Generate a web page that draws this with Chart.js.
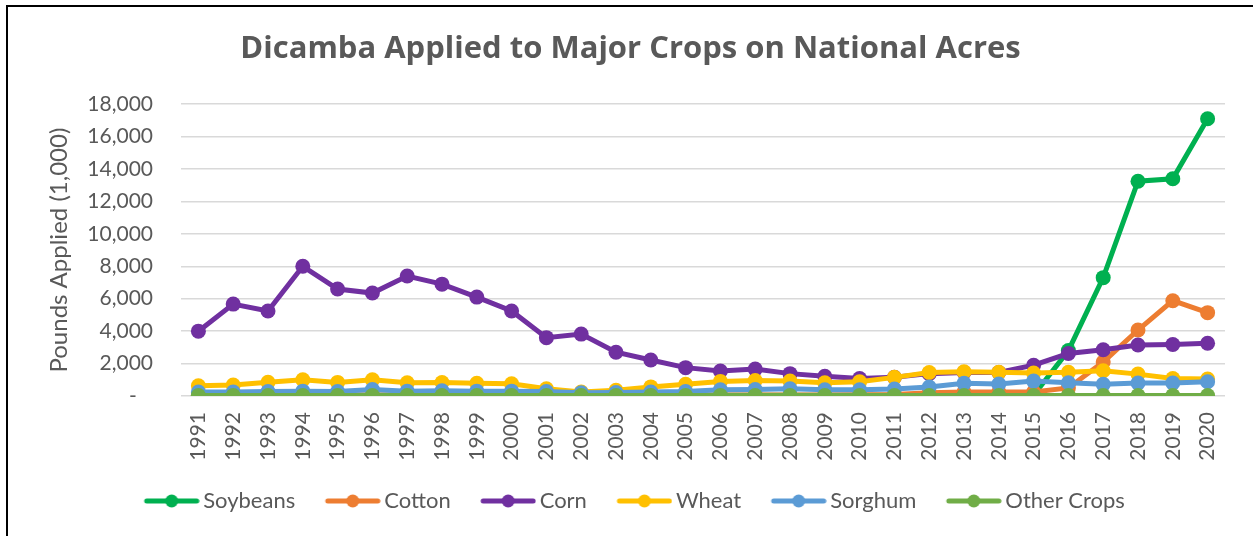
<!DOCTYPE html>
<html>
<head>
<meta charset="utf-8">
<script src="https://cdn.jsdelivr.net/npm/chart.js@4.4.1/dist/chart.umd.min.js"></script>
<style>
  html, body { margin: 0; padding: 0; background: #fff; }
  #wrap { position: relative; width: 1253px; height: 536px; overflow: hidden; }
  #frame { position: absolute; left: 6px; top: 5px; width: 1260px; height: 540px; border: 2px solid #000; box-sizing: border-box; }
  canvas { position: absolute; left: 0; top: 0; }
</style>
</head>
<body>
<div id="wrap">
  <div id="frame"></div>
  <canvas id="c" width="1253" height="536"></canvas>
</div>
<script>
const years = ['1991','1992','1993','1994','1995','1996','1997','1998','1999','2000','2001','2002','2003','2004','2005','2006','2007','2008','2009','2010','2011','2012','2013','2014','2015','2016','2017','2018','2019','2020'];
const soybeans = [40,40,40,40,40,40,40,40,40,40,40,40,40,40,40,40,40,40,40,40,40,40,40,40,50,2800,7300,13250,13400,17100];
const cotton = [60,60,60,60,60,60,60,60,60,60,60,60,60,60,60,60,60,60,60,80,100,200,250,250,250,500,2100,4070,5880,5140];
const corn = [4000,5670,5240,8000,6600,6350,7400,6900,6100,5240,3600,3820,2700,2220,1750,1540,1660,1380,1220,1080,1150,1380,1450,1450,1900,2620,2850,3150,3180,3250];
const wheat = [630,680,850,1000,840,1000,820,830,780,760,450,250,350,560,720,900,950,920,820,880,1150,1450,1500,1460,1420,1460,1560,1350,1080,1050];
const sorghum = [250,250,280,300,280,400,300,320,300,300,280,200,220,250,280,380,400,450,380,380,430,550,780,740,920,820,720,800,800,880];
const otherCrops = [30,30,30,30,30,30,30,30,30,30,30,30,30,30,30,30,30,30,30,30,30,30,30,30,30,30,30,30,30,30];
const yTicks = [0,2000,4000,6000,8000,10000,12000,14000,16000,18000];

const seriesNames = ['Soybeans','Cotton','Corn','Wheat','Sorghum','Other Crops'];
const seriesData = [soybeans, cotton, corn, wheat, sorghum, otherCrops];
const seriesColors = ['#00B050','#ED7D31','#7030A0','#FFC000','#5B9BD5','#70AD47'];

const FONT = 'Lato, "Open Sans", sans-serif';
const TXT = '#595959';

// legend marker: line with a dot, drawn flush right inside a wider transparent canvas
function legendIcon(color) {
  const cv = document.createElement('canvas');
  cv.width = 71; cv.height = 16;
  const g = cv.getContext('2d');
  g.strokeStyle = color; g.lineWidth = 5; g.lineCap = 'round';
  g.beginPath(); g.moveTo(18, 8); g.lineTo(68, 8); g.stroke();
  g.fillStyle = color;
  g.beginPath(); g.arc(43, 8, 6.5, 0, Math.PI * 2); g.fill();
  return cv;
}
const icons = seriesColors.map(legendIcon);

const datasets = seriesNames.map((name, i) => ({
  label: name,
  data: seriesData[i],
  borderColor: seriesColors[i],
  backgroundColor: seriesColors[i],
  pointBackgroundColor: seriesColors[i],
  pointBorderColor: seriesColors[i],
  borderWidth: 5,
  pointRadius: 7.5,
  pointBorderWidth: 0,
  pointHoverRadius: 7.5,
  tension: 0,
  order: seriesNames.length - i
}));

new Chart(document.getElementById('c'), {
  type: 'line',
  data: { labels: years, datasets },
  options: {
    responsive: false,
    animation: false,
    events: [],
    layout: { padding: { left: 36, right: 28, top: 0, bottom: 14 } },
    plugins: {
      title: {
        display: true,
        text: 'Dicamba Applied to Major Crops on National Acres',
        color: TXT,
        font: { family: '"Open Sans", Lato, sans-serif', size: 31, weight: 'bold' },
        padding: { top: 31, bottom: 36 }
      },
      legend: {
        position: 'bottom',
        labels: {
          color: TXT,
          font: { family: FONT, size: 22 },
          usePointStyle: true,
          pointStyleWidth: 56,
          boxHeight: 16,
          padding: 22,
          sort: (a, b) => a.datasetIndex - b.datasetIndex,
          generateLabels: (chart) => {
            const items = Chart.defaults.plugins.legend.labels.generateLabels(chart);
            items.forEach(it => { it.pointStyle = icons[it.datasetIndex]; });
            return items;
          }
        }
      },
      tooltip: { enabled: false }
    },
    scales: {
      x: {
        offset: true,
        grid: { display: false, drawTicks: false },
        border: { display: false },
        ticks: { color: TXT, font: { family: FONT, size: 21 }, minRotation: 90, maxRotation: 90, padding: 16, autoSkip: false },
        afterFit: (s) => { s.height = 72; }
      },
      y: {
        min: 0, max: 18000,
        afterBuildTicks: (s) => { s.ticks = yTicks.map(v => ({ value: v })); },
        grid: { color: '#D9D9D9', lineWidth: 1.5, drawTicks: false },
        border: { display: false },
        ticks: {
          color: TXT, font: { family: FONT, size: 21 }, padding: 28,
          callback: (v) => v === 0 ? '-\u00a0\u00a0\u00a0' : v.toLocaleString('en-US')
        },
        title: {
          display: true, text: 'Pounds Applied (1,000)', color: TXT,
          font: { family: FONT, size: 24 }, padding: { top: 9, bottom: 0 }
        },
        afterFit: (s) => { s.width = 145; }
      }
    }
  }
});
</script>
</body>
</html>
